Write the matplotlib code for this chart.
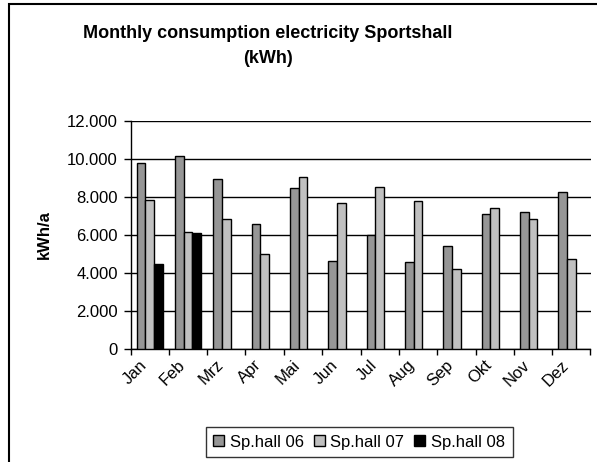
import numpy as np
import matplotlib
matplotlib.use("Agg")
import matplotlib.pyplot as plt
import matplotlib.transforms as mtransforms
from matplotlib.patches import Rectangle
from matplotlib.ticker import FuncFormatter, FixedLocator

plt.rcParams["font.family"] = ["Liberation Sans", "DejaVu Sans"]

months = ["Jan", "Feb", "Mrz", "Apr", "Mai", "Jun", "Jul", "Aug", "Sep", "Okt", "Nov", "Dez"]
hall06 = [9810, 10160, 8950, 6590, 8460, 4650, 6000, 4560, 5410, 7110, 7190, 8280]
hall07 = [7860, 6170, 6840, 4980, 9070, 7700, 8540, 7770, 4230, 7440, 6840, 4740]
hall08 = [4490, 6110, np.nan, np.nan, np.nan, np.nan, np.nan, np.nan, np.nan, np.nan, np.nan, np.nan]
series = ["Sp.hall 06", "Sp.hall 07", "Sp.hall 08"]
colors = ["#969696", "#C0C0C0", "#000000"]

fig = plt.figure(figsize=(5.97, 4.62), dpi=100)
ax = fig.add_axes([130.5 / 597, 113 / 462, 460 / 597, 228 / 462])

x = np.arange(len(months))
w = 0.227
for i, (vals, lab, c) in enumerate(zip([hall06, hall07, hall08], series, colors)):
    ax.bar(x + (i - 1) * w, vals, w, color=c, edgecolor="black", linewidth=1.0,
           label=lab, zorder=3)

ax.set_xlim(-0.5, len(months) - 0.5)
ax.set_ylim(0, 12000)
ax.set_yticks(np.arange(0, 12001, 2000))
ax.yaxis.set_major_formatter(FuncFormatter(lambda v, p: f"{int(v):,}".replace(",", ".")))
ax.grid(axis="y", color="black", linewidth=1.0, zorder=0)
ax.set_axisbelow(True)

ax.set_xticks(x)
ax.set_xticklabels(months, rotation=45, ha="right")
shift = mtransforms.ScaledTranslation(-9 / 100, -3 / 100, fig.dpi_scale_trans)
for lbl in ax.get_xticklabels():
    lbl.set_transform(lbl.get_transform() + shift)
ax.xaxis.set_minor_locator(FixedLocator(np.arange(-0.5, len(months), 1.0)))
ax.tick_params(axis="x", which="major", length=0, labelsize=12, pad=6)
ax.tick_params(axis="x", which="minor", length=4, width=1.0, direction="out")
ax.tick_params(axis="y", length=5, width=1.0, labelsize=12, pad=4)

for s in ["top", "right"]:
    ax.spines[s].set_visible(False)
ax.spines["left"].set_linewidth(1.0)
ax.spines["bottom"].set_linewidth(1.0)

ax.set_ylabel("kWh/a", fontsize=12, fontweight="bold")
ax.yaxis.set_label_coords(-0.172, 0.5)

fig.text(268 / 597, 1 - 46 / 462, "Monthly consumption electricity Sportshall\n(kWh)",
         ha="center", va="center", fontsize=13, fontweight="bold", linespacing=1.65)

leg = fig.legend(loc="center", bbox_to_anchor=(359 / 597, 1 - 442 / 462), ncol=3,
                 fontsize=12, frameon=True, fancybox=False, edgecolor="black",
                 handlelength=0.65, handleheight=0.65, handletextpad=0.35,
                 columnspacing=0.6, borderpad=0.45, borderaxespad=0)
leg.get_frame().set_linewidth(1.0)

fig.patches.append(Rectangle((9 / 597, -0.1), 2.0, 1.1 - 4 / 462,
                             transform=fig.transFigure, fill=False,
                             edgecolor="black", linewidth=1.5))

fig.savefig("out.png", dpi=100)
